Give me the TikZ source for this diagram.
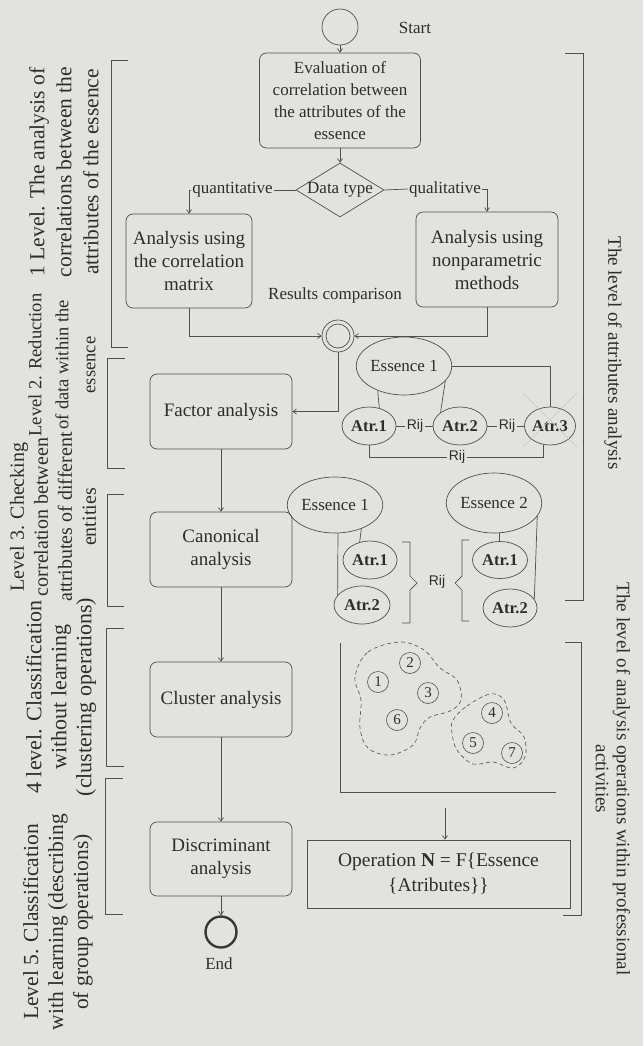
\documentclass[tikz,border=0pt]{standalone}
\usepackage{fontspec}
\setmainfont{Liberation Serif}
\newfontfamily\sansf{Liberation Sans}
\usetikzlibrary{shapes.geometric,arrows.meta,calc}
\definecolor{paper}{RGB}{226,226,222}
\definecolor{ink}{RGB}{80,80,80}
\definecolor{txt}{RGB}{45,45,45}
\begin{document}
\begin{tikzpicture}[x=1pt,y=-1pt,
  every node/.style={text=txt},
  ln/.style={draw=ink, line width=0.7pt},
  arr/.style={ln, -{Straight Barb[length=3.5pt,width=5pt]}},
  rbox/.style={draw=ink, line width=0.7pt, rounded corners=7pt, align=center, inner sep=0pt, font=\fontsize{19}{23}\selectfont},
  sbox/.style={draw=ink, line width=0.7pt, align=center, inner sep=0pt, font=\fontsize{19.5}{25}\selectfont},
  ell/.style={ellipse, draw=ink, line width=0.7pt, inner sep=0pt},
  ess/.style={ell, font=\fontsize{17}{17}\selectfont},
  atr/.style={ell, font=\fontsize{16.5}{16.5}\selectfont\bfseries},
  lbl/.style={inner sep=1pt, font=\fontsize{17}{17}\selectfont},
  rij/.style={inner sep=1.5pt, font=\sansf\fontsize{14}{14}\selectfont},
  num/.style={circle, draw=ink, line width=0.6pt, inner sep=0pt, minimum size=21pt, font=\fontsize{15}{15}\selectfont},
  brk/.style={draw=ink, line width=0.7pt},
  lside/.style={rotate=90, align=center, inner sep=0pt, font=\fontsize{23}{27}\selectfont},
  rside/.style={rotate=-90, align=center, inner sep=0pt, font=\fontsize{19}{21}\selectfont},
  blob/.style={draw=ink, line width=0.6pt, dash pattern=on 4pt off 3pt}
]
\fill[paper] (0,0) rectangle (643,1046);
\useasboundingbox (0,0) rectangle (643,1046);

% ---------- level 1 flow ----------
\node[circle, ln, minimum size=36pt, inner sep=0pt] (st) at (340,27) {};
\node[lbl] (stl) at (415,28) {Start};
\node[rbox, font=\fontsize{17}{22}\selectfont, minimum width=161pt, minimum height=95pt] (ev) at (340,100.5)
  {Evaluation of\\correlation between\\the attributes of the\\essence};
\node[diamond, ln, minimum width=88pt, minimum height=54pt, inner sep=0pt] (dt) at (340,190) {};
\node[lbl] (dtt) at (dt) {Data type};
\node[lbl] (qn) at (232.5,190) {quantitative};
\node[lbl] (ql) at (445,189) {qualitative};
\node[rbox, minimum width=126pt, minimum height=94pt] (lb) at (189,261)
  {Analysis using\\the correlation\\matrix};
\node[rbox, minimum width=142pt, minimum height=95pt] (rb) at (487,259.5)
  {Analysis using\\nonparametric\\methods};
\node[lbl] (rc) at (335,295) {Results comparison};
\node[circle, ln, minimum size=32pt, inner sep=0pt] (mg) at (338,336) {};
\node[circle, ln, minimum size=24pt, inner sep=0pt] (mgi) at (mg) {};

\draw[arr] (st.south) -- (ev.north);
\draw[arr] (ev.south) -- (dt.north);
\draw[ln] (dt.west) -- (qn.east);
\draw[arr] (qn.west) -| (lb.north);
\draw[ln] (dt.east) -- (ql.west);
\draw[arr] (ql.east) -| (rb.north);
\draw[arr] (lb.south) |- (mg.west);
\draw[arr] (rb.south) |- (mg.east);

% ---------- main column ----------
\node[rbox, minimum width=142pt, minimum height=75pt] (fa) at (221,411.5) {Factor analysis};
\node[rbox, minimum width=142pt, minimum height=75pt] (ca) at (221,549.5) {Canonical\\analysis};
\node[rbox, minimum width=142pt, minimum height=75pt] (cl) at (221,699.5) {Cluster analysis};
\node[rbox, minimum width=142pt, minimum height=74pt] (di) at (221,859) {Discriminant\\analysis};
\node[circle, draw=ink!70!black, line width=2.4pt, minimum size=31pt, inner sep=0pt] (en) at (221,932) {};
\node[lbl] (enl) at (219,964) {End};

\draw[arr] (mg.south) |- (fa.east);
\draw[arr] (fa.south) -- (ca.north);
\draw[arr] (ca.south) -- (cl.north);
\draw[arr] (cl.south) -- (di.north);
\draw[arr] (di.south) -- (en.north);

% ---------- essence 1 with three attributes ----------
\node[ess, minimum width=84pt, minimum height=58pt] (e1) at (404,366) {Essence 1};
\node[atr, minimum width=54pt, minimum height=38pt] (a1) at (369,426) {Atr.1};
\node[atr, minimum width=54pt, minimum height=38pt] (a2) at (460,426) {Atr.2};
\node[atr, minimum width=51pt, minimum height=38pt] (a3) at (550,426) {Atr.3};
\draw[draw=gray!45, line width=0.5pt] (523,393) -- (577,447) (577,393) -- (523,447);
\node[rij] (r1) at (415,426) {Rij};
\node[rij] (r2) at (507,426) {Rij};
\node[rij] (r3) at (457,457) {Rij};
\draw[ln] (e1.223) -- (a1.60);
\draw[ln] (e1.340) -- (a2.145);
\draw[ln] (e1.east) -| (a3.north);
\draw[ln] (a1.east) -- (r1.west);
\draw[ln] (r1.east) -- (a2.west);
\draw[ln] (a2.east) -- (r2.west);
\draw[ln] (r2.east) -- (a3.west);
\draw[ln] (a1.south) |- (r3.west);
\draw[ln] (r3.east) -| (a3.250);

% ---------- two essences ----------
\node[ess, minimum width=84pt, minimum height=56pt] (e2) at (335,505) {Essence 1};
\node[ess, minimum width=88pt, minimum height=60pt] (e3) at (494,503) {Essence 2};
\node[atr, minimum width=54pt, minimum height=38pt] (b1) at (370,560) {Atr.1};
\node[atr, minimum width=56pt, minimum height=38pt] (b2) at (362,605) {Atr.2};
\node[atr, minimum width=55pt, minimum height=37pt] (c1) at (500,560) {Atr.1};
\node[atr, minimum width=54pt, minimum height=38pt] (c2) at (510,608) {Atr.2};
\draw[ln] (e2.318) -- (b1.120);
\draw[ln] (e2.276) -- (b2.158);
\draw[ln] (e3.280) -- (e3.280 |- c1.north);
\draw[ln] (e3.343) -- (c2.20);
\draw[brk] (402,542) -- (410,542) -- (410,576) -- (417,583) -- (410,590) -- (410,623) -- (402,623);
\draw[brk] (469,540) -- (462,540) -- (462,576) -- (455,583) -- (462,590) -- (462,621) -- (469,621);
\node[rij] (r4) at (437,582) {Rij};

% ---------- cluster plot ----------
\draw[ln] (340,643) -- (340,792) -- (556,792);
\node[num] (n1) at (378,682) {1};
\node[num] (n2) at (410,663) {2};
\node[num] (n3) at (428,693) {3};
\node[num] (n6) at (397,720) {6};
\node[num] (n4) at (492,713) {4};
\node[num] (n5) at (473,743) {5};
\node[num] (n7) at (512,753) {7};
\draw[blob] plot[smooth cycle, tension=0.6] coordinates {(355,677) (368,652) (400,642) (424,650) (440,668) (457,680) (461,700) (450,711) (430,717) (420,728) (413,745) (390,755) (368,748) (360,728) (361,700)};
\draw[blob] plot[smooth cycle, tension=0.6] coordinates {(453,720) (467,706) (490,694) (504,700) (511,723) (524,737) (525,757) (513,768) (493,762) (473,764) (457,750) (452,733)};

\coordinate (axb) at (445,808);
\node[sbox, minimum width=263pt, minimum height=68pt] (op) at (438.5,874)
  {Operation \textbf{N} = F\{Essence\\\{Atributes\}\}};
\draw[arr] (axb) -- (axb |- op.north);

% ---------- left brackets and labels ----------
\draw[brk] (128,60) -- (111,60) -- (111,347) -- (128,347);
\draw[brk] (125,358) -- (107,358) -- (107,468) -- (125,468);
\draw[brk] (124,494) -- (107,494) -- (107,606) -- (124,606);
\draw[brk] (124,628) -- (106,628) -- (106,766) -- (124,766);
\draw[brk] (123,778) -- (105,778) -- (105,914) -- (123,914);

\node[lside, font=\fontsize{21.5}{27}\selectfont] (t1) at (64,172) {1 Level. The analysis of\\correlations between the\\attributes of the essence};
\node[lside, font=\fontsize{18.5}{27}\selectfont] (t2) at (62,365) {Level 2. Reduction\\of data within the\\essence};
\node[lside, font=\fontsize{20}{24}\selectfont] (t3) at (53,517) {Level 3. Checking\\correlation between\\attributes of different\\entities};
\node[lside, font=\fontsize{22}{25}\selectfont] (t4) at (61,697) {4 level. Classification\\without learning\\(clustering operations)};
\node[lside, font=\fontsize{21.5}{25}\selectfont] (t5) at (58,922) {Level 5. Classification\\with learning (describing\\of group operations)};

% ---------- right brackets and labels ----------
\draw[brk] (565,53) -- (583,53) -- (583,600) -- (565,600);
\draw[brk] (565,642) -- (581,642) -- (581,915) -- (563,915);
\node[rside] (t6) at (613,353) {The level of attributes analysis};
\node[rside] (t7) at (613,779) {The level of analysis operations within professional\\activities};
\end{tikzpicture}
\end{document}
